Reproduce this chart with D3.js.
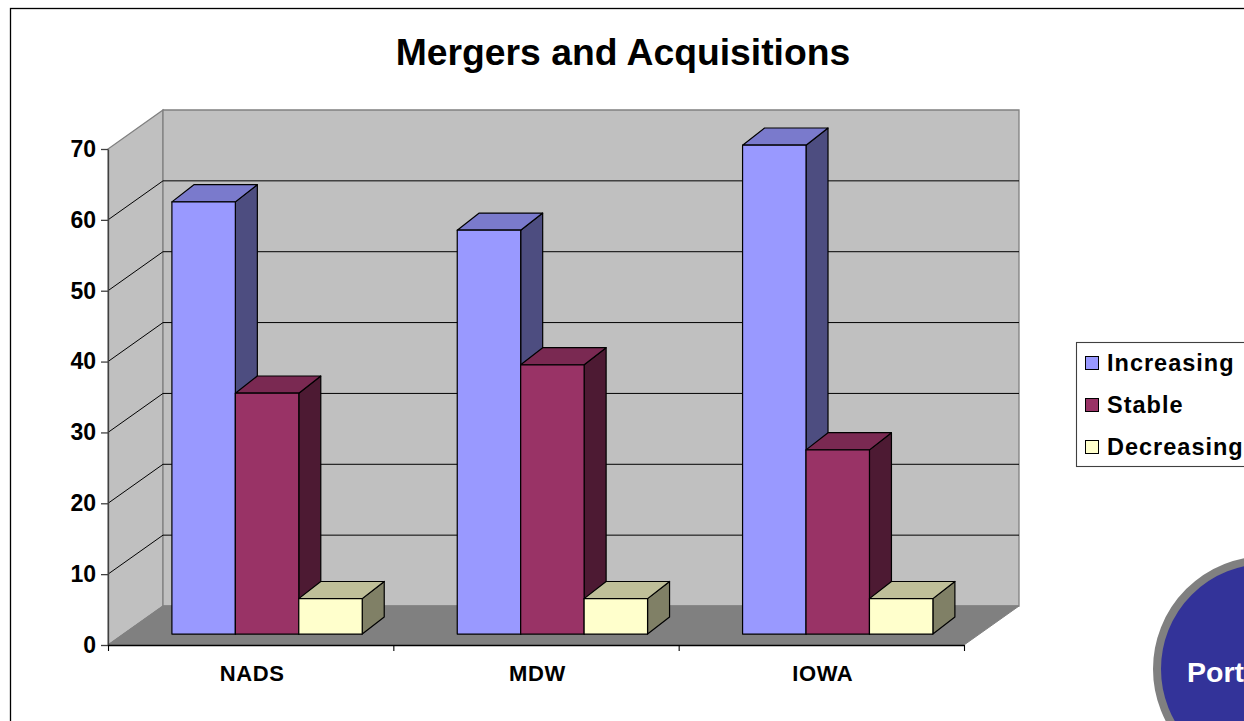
<!DOCTYPE html>
<html>
<head>
<meta charset="utf-8">
<script src="https://cdn.jsdelivr.net/npm/d3@7"></script>
<style>
  html, body { margin: 0; padding: 0; background: #fff; overflow: hidden; }
  text { font-family: "Liberation Sans", Arial, sans-serif; font-weight: bold; fill: #000; }
</style>
</head>
<body>
<div id="wrapper"></div>
<script>
// data
const categories = ["NADS", "MDW", "IOWA"]
const seriesNames = ["Increasing", "Stable", "Decreasing"]
const increasing = [61, 57, 69]
const stable = [34, 38, 26]
const decreasing = [5, 5, 5]
const yTicks = [0, 10, 20, 30, 40, 50, 60, 70]

const seriesValues = [increasing, stable, decreasing]
const colors = [
  { front: "#9999ff", top: "#7a7acc", side: "#4d4d80" },
  { front: "#993366", top: "#7a2952", side: "#4d1a33" },
  { front: "#ffffcc", top: "#bfbf99", side: "#808066" },
]

const dimensions = {
  width: 1244, height: 721,
  left: 108, right: 964, top: 149, bottom: 645,
  depthX: 55, depthY: -39,
}

const wrapper = d3.select("#wrapper").append("svg")
    .attr("width", dimensions.width)
    .attr("height", dimensions.height)
    .style("display", "block")

// scales
const yScale = d3.scaleLinear().domain([0, 70]).range([dimensions.bottom, dimensions.top])
const xEdge = d3.scaleLinear().domain([0, categories.length]).range([dimensions.left, dimensions.right])
const xBand = d3.scaleBand().domain(categories).range([dimensions.left, dimensions.right])
const barBand = d3.scaleBand().domain(seriesNames)
    .range([xBand.bandwidth() * 0.17, xBand.bandwidth() * 0.837])
const depthXScale = d3.scaleLinear().domain([0, 1]).range([0, dimensions.depthX])
const depthYScale = d3.scaleLinear().domain([0, 1]).range([0, dimensions.depthY])
const project = (x, y, d, dy = d) => [x + depthXScale(d), y + depthYScale(dy)]
const poly = pts => pts.map(p => p.join(",")).join(" ")

// outer frame, runs off the page on the right and bottom
wrapper.append("rect")
    .attr("x", 10.5).attr("y", 8.5)
    .attr("width", 1300).attr("height", 800)
    .attr("fill", "#fff").attr("stroke", "#000").attr("stroke-width", 1.3)

wrapper.append("text")
    .attr("x", 623).attr("y", 65)
    .attr("text-anchor", "middle")
    .style("font-size", "37.3px")
    .text("Mergers and Acquisitions")

// walls and floor
const xLeft = dimensions.left
const xRight = dimensions.right
const yTop = dimensions.top
const yBottom = dimensions.bottom
const walls = wrapper.append("g")
walls.append("polygon")
    .attr("points", poly([project(xLeft, yBottom, 0), project(xLeft, yTop, 0), project(xLeft, yTop, 1), project(xLeft, yBottom, 1)]))
    .attr("fill", "#c0c0c0").attr("stroke", "#808080").attr("stroke-width", 1.3)
walls.append("polygon")
    .attr("points", poly([project(xLeft, yBottom, 1), project(xLeft, yTop, 1), project(xRight, yTop, 1), project(xRight, yBottom, 1)]))
    .attr("fill", "#c0c0c0").attr("stroke", "#808080").attr("stroke-width", 1.3)
walls.append("polygon")
    .attr("points", poly([project(xLeft, yBottom, 0), project(xRight, yBottom, 0), project(xRight, yBottom, 1), project(xLeft, yBottom, 1)]))
    .attr("fill", "#808080").attr("stroke", "#808080")

// gridlines across the side wall and the back wall
const gridLine = d3.line()
walls.selectAll(".grid")
  .data(yTicks.filter(d => d > 0 && d < 70))
  .join("path")
    .attr("class", "grid")
    .attr("fill", "none")
    .attr("stroke", "#000")
    .attr("d", d => gridLine([project(xLeft, yScale(d), 0), project(xLeft, yScale(d), 1), project(xRight, yScale(d), 1)]))

// bars, left to right so each one covers the side of the previous one
const barFront = 0.28
const barBack = 0.68
const barBackY = 0.72
const bars = []
categories.forEach((cat, i) => {
  seriesNames.forEach((name, s) => {
    bars.push({ cat, name, s, value: seriesValues[s][i] })
  })
})
const barGroups = wrapper.append("g").selectAll("g")
  .data(bars)
  .join("g")
    .attr("stroke", "#000")
    .attr("stroke-width", 1.2)
    .attr("stroke-linejoin", "round")

const corners = d => {
  const x0 = xBand(d.cat) + barBand(d.name)
  const x1 = x0 + barBand.bandwidth()
  return { x0, x1, y0: yScale(0), y1: yScale(d.value) }
}
barGroups.append("polygon")
    .attr("fill", d => colors[d.s].side)
    .attr("points", d => {
      const c = corners(d)
      return poly([project(c.x1, c.y0, barFront), project(c.x1, c.y1, barFront), project(c.x1, c.y1, barBack, barBackY), project(c.x1, c.y0, barBack, barBackY)])
    })
barGroups.append("polygon")
    .attr("fill", d => colors[d.s].top)
    .attr("points", d => {
      const c = corners(d)
      return poly([project(c.x0, c.y1, barFront), project(c.x1, c.y1, barFront), project(c.x1, c.y1, barBack, barBackY), project(c.x0, c.y1, barBack, barBackY)])
    })
barGroups.append("polygon")
    .attr("fill", d => colors[d.s].front)
    .attr("points", d => {
      const c = corners(d)
      return poly([project(c.x0, c.y0, barFront), project(c.x1, c.y0, barFront), project(c.x1, c.y1, barFront), project(c.x0, c.y1, barFront)])
    })

// axes
const yAxis = wrapper.append("g")
    .attr("transform", `translate(${xLeft}, 0)`)
    .call(d3.axisLeft(yScale).tickValues(yTicks).tickSize(7).tickPadding(5).tickSizeOuter(0))
yAxis.select(".domain").attr("stroke", "#404040").attr("stroke-width", 1.3)
yAxis.selectAll("line").attr("stroke", "#404040").attr("stroke-width", 1.3)
yAxis.selectAll("text")
    .style("font-size", "23px")
    .style("font-family", '"Liberation Sans", Arial, sans-serif')
    .style("font-weight", "bold")

const xAxis = wrapper.append("g")
    .attr("transform", `translate(0, ${yBottom})`)
    .call(d3.axisBottom(xEdge).tickValues(d3.range(categories.length + 1)).tickFormat("").tickSize(6).tickSizeOuter(0))
xAxis.select(".domain").attr("stroke", "#000").attr("stroke-width", 1.3)
xAxis.selectAll("line").attr("stroke", "#000").attr("stroke-width", 1.1)

wrapper.append("g").selectAll("text")
  .data(categories)
  .join("text")
    .attr("x", d => xBand(d) + xBand.bandwidth() / 2 + 1.5)
    .attr("y", 681)
    .attr("text-anchor", "middle")
    .attr("letter-spacing", 0.6)
    .style("font-size", "22px")
    .text(d => d)

// legend
const legend = wrapper.append("g")
legend.append("rect")
    .attr("x", 1076.5).attr("y", 342.5)
    .attr("width", 200).attr("height", 124)
    .attr("fill", "#fff").attr("stroke", "#404040").attr("stroke-width", 1.1)
const legendY = d3.scalePoint().domain(seriesNames).range([363, 447])
const legendRows = legend.selectAll("g.row")
  .data(seriesNames)
  .join("g")
    .attr("class", "row")
    .attr("transform", d => `translate(0, ${legendY(d)})`)
legendRows.append("rect")
    .attr("x", 1085.5).attr("y", -6.5)
    .attr("width", 13).attr("height", 13)
    .attr("fill", (d, i) => colors[i].front)
    .attr("stroke", "#000").attr("stroke-width", 1)
legendRows.append("text")
    .attr("x", 1107).attr("y", 8)
    .attr("letter-spacing", 1)
    .style("font-size", "23.5px")
    .text(d => d)

// the circle cut off by the slide edge
wrapper.append("circle")
    .attr("cx", 1266).attr("cy", 669).attr("r", 109)
    .attr("fill", "#333399").attr("stroke", "#808080").attr("stroke-width", 8)
wrapper.append("text")
    .attr("x", 1187).attr("y", 682)
    .style("font-size", "28.5px")
    .style("fill", "#fff")
    .text("Port")
</script>
</body>
</html>
